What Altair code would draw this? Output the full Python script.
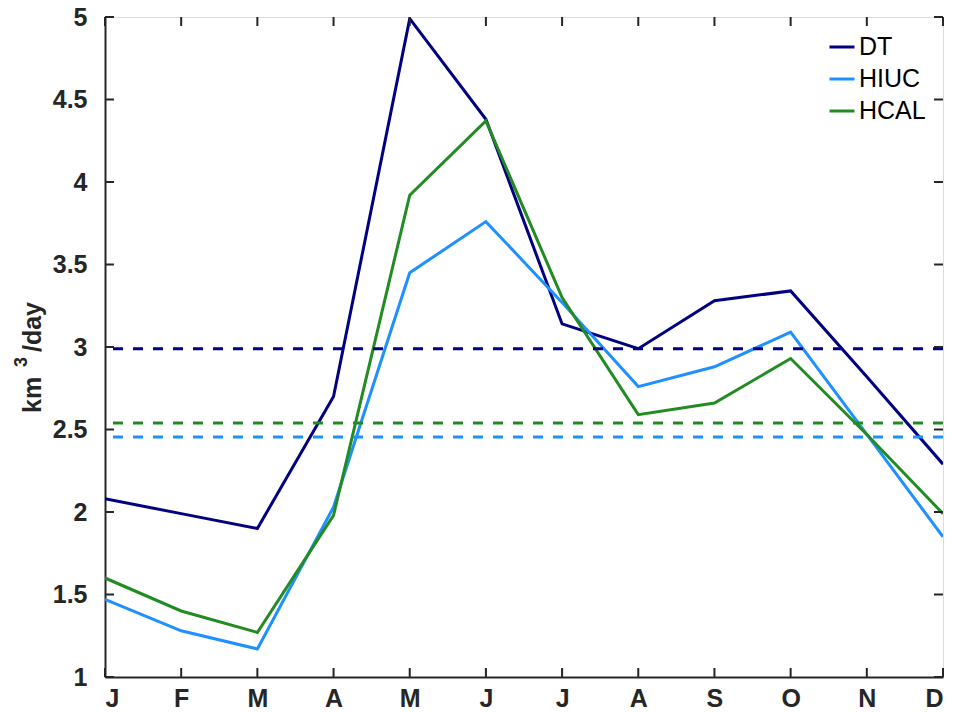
import altair as alt
import pandas as pd

# Monthly flow (km^3/day) for three estimates
months = ["J", "F", "M", "A", "M", "J", "J", "A", "S", "O", "N", "D"]
month_num = list(range(1, 13))
dt = [2.08, 1.99, 1.90, 2.70, 4.99, 4.38, 3.14, 2.99, 3.28, 3.34, 2.82, 2.29]
hiuc = [1.47, 1.28, 1.17, 2.03, 3.45, 3.76, 3.27, 2.76, 2.88, 3.09, 2.47, 1.85]
hcal = [1.60, 1.40, 1.27, 1.98, 3.92, 4.37, 3.30, 2.59, 2.66, 2.93, 2.47, 1.99]
series_names = ["DT", "HIUC", "HCAL"]
series_colors = ["#000080", "#1E90FF", "#228B22"]
annual_means = [2.99, 2.455, 2.54]
y_ticks = [1.0, 1.5, 2.0, 2.5, 3.0, 3.5, 4.0, 4.5, 5.0]
unit_parts = ["km", "3", "/day"]

W, H = 838, 660
FONT = "Liberation Sans"
INK = "#262626"
TICK = 9

rows = []
for name, vals in zip(series_names, [dt, hiuc, hcal]):
    for m, v in zip(month_num, vals):
        rows.append({"month": m, "series": name, "value": v})
df = pd.DataFrame(rows)
means_df = pd.DataFrame({"series": series_names, "mean": annual_means})
xt_df = pd.DataFrame({"month": month_num})
yt_df = pd.DataFrame({"v": y_ticks})

label_expr = "[" + ",".join(f"'{m}'" for m in months) + "][datum.value - 1]"

x_scale = alt.Scale(domain=[1, 12], nice=False, zero=False)
y_scale = alt.Scale(domain=[1, 5], nice=False, zero=False)
color_scale = alt.Scale(domain=series_names, range=series_colors)

x_axis = alt.Axis(
    values=month_num, labelExpr=label_expr, title=None, grid=False,
    tickSize=0, labelPadding=9, labelFontSize=25, labelFontWeight="bold",
    labelFont=FONT, labelColor=INK, domainColor=INK, domainWidth=2,
)
y_axis = alt.Axis(
    values=y_ticks, format="~g", title=None, grid=False, tickSize=0,
    labelPadding=18, labelFontSize=25, labelFontWeight="bold", labelFont=FONT,
    labelColor=INK, domainColor=INK, domainWidth=2,
)

lines = alt.Chart(df).mark_line(strokeWidth=3, clip=True).encode(
    x=alt.X("month:Q", scale=x_scale, axis=x_axis),
    y=alt.Y("value:Q", scale=y_scale, axis=y_axis),
    color=alt.Color(
        "series:N", scale=color_scale,
        legend=alt.Legend(
            title=None, orient="none", legendX=723, legendY=16,
            symbolType="stroke", symbolSize=625, symbolStrokeWidth=3,
            labelFontSize=25, labelFont=FONT, labelColor="#000000",
            labelOffset=3, rowPadding=5, padding=0,
        ),
    ),
)

mean_rules = alt.Chart(means_df).mark_rule(strokeWidth=3, strokeDash=[10, 10]).encode(
    y=alt.Y("mean:Q", scale=y_scale),
    color=alt.Color("series:N", scale=color_scale),
)

# inward tick marks on all four sides of the box
tick_style = dict(color=INK, strokeWidth=2)
bottom_ticks = alt.Chart(xt_df).mark_rule(**tick_style).encode(
    x=alt.X("month:Q", scale=x_scale), y=alt.value(H), y2=alt.value(H - TICK))
top_ticks = alt.Chart(xt_df).mark_rule(**tick_style).encode(
    x=alt.X("month:Q", scale=x_scale), y=alt.value(0), y2=alt.value(TICK))
left_ticks = alt.Chart(yt_df).mark_rule(**tick_style).encode(
    y=alt.Y("v:Q", scale=y_scale), x=alt.value(0), x2=alt.value(TICK))
right_ticks = alt.Chart(yt_df).mark_rule(**tick_style).encode(
    y=alt.Y("v:Q", scale=y_scale), x=alt.value(W), x2=alt.value(W - TICK))

# y-axis unit label with a raised exponent, written bottom-to-top
unit_df = pd.DataFrame({"part": unit_parts})
unit_style = dict(angle=270, align="left", baseline="alphabetic", font=FONT,
                  fontWeight="bold", color=INK)
unit_km = alt.Chart(unit_df).transform_filter(alt.datum.part == unit_parts[0]).mark_text(
    fontSize=25, **unit_style).encode(text="part:N", x=alt.value(-64), y=alt.value(396))
unit_exp = alt.Chart(unit_df).transform_filter(alt.datum.part == unit_parts[1]).mark_text(
    fontSize=18, **unit_style).encode(text="part:N", x=alt.value(-78), y=alt.value(350))
unit_day = alt.Chart(unit_df).transform_filter(alt.datum.part == unit_parts[2]).mark_text(
    fontSize=25, **unit_style).encode(text="part:N", x=alt.value(-64), y=alt.value(335))

chart = alt.layer(
    lines, mean_rules, bottom_ticks, top_ticks, left_ticks, right_ticks,
    unit_km, unit_exp, unit_day,
).properties(
    width=W, height=H,
    autosize=alt.AutoSizeParams(type="none"),
    padding={"left": 105, "top": 17, "right": 10, "bottom": 36},
).configure_view(
    stroke=INK, strokeWidth=2
).configure(background="white")

chart.save("out.html", embed_options={"renderer": "svg", "actions": False})
